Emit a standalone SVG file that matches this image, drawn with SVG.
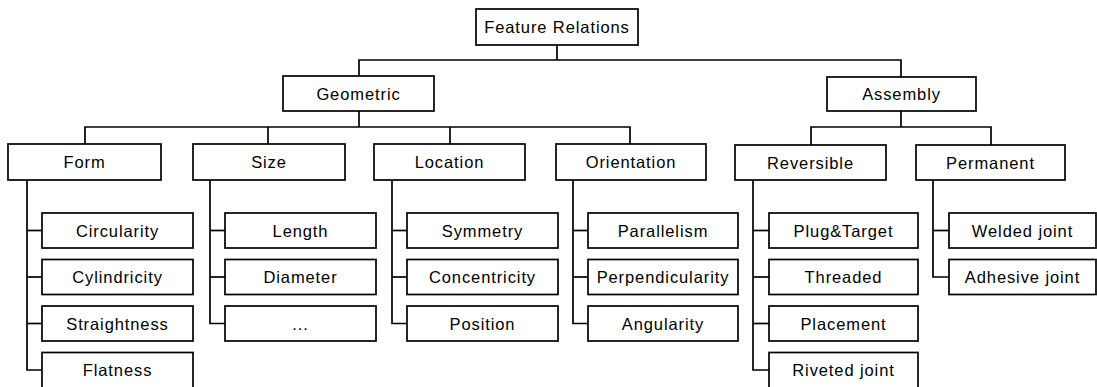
<svg xmlns="http://www.w3.org/2000/svg" width="1097" height="387" viewBox="0 0 1097 387">
  <style>
    .box { fill: #ffffff; stroke: #000000; stroke-width: 1.7; }
    .wire { fill: none; stroke: #000000; stroke-width: 1.7; }
    .lbl { font-family: "Liberation Sans", Arial, sans-serif; font-size: 16.5px; letter-spacing: 0.9px; fill: #000000; text-anchor: middle; }
  </style>
  <rect width="1097" height="387" fill="#ffffff"/>

  <!-- connectors -->
  <g id="connectors" class="wire">
    <!-- root to first level -->
    <polyline points="557,45 557,60"/>
    <polyline points="359,76 359,60 901,60 901,77"/>
    <!-- Geometric to its categories -->
    <polyline points="359,111 359,127"/>
    <polyline points="85,144 85,127 630,127 630,144"/>
    <polyline points="268,127 268,144"/>
    <polyline points="450,127 450,144"/>
    <!-- Assembly to its categories -->
    <polyline points="901,111 901,127"/>
    <polyline points="811,145 811,127 991,127 991,145"/>
    <!-- Form leaves -->
    <polyline points="27,180 27,370 42,370"/>
    <line x1="27" y1="230.5" x2="42" y2="230.5"/>
    <line x1="27" y1="277" x2="42" y2="277"/>
    <line x1="27" y1="323.5" x2="42" y2="323.5"/>
    <!-- Size leaves -->
    <polyline points="210,180 210,323.5 225,323.5"/>
    <line x1="210" y1="230.5" x2="225" y2="230.5"/>
    <line x1="210" y1="277" x2="225" y2="277"/>
    <!-- Location leaves -->
    <polyline points="392,180 392,323.5 407,323.5"/>
    <line x1="392" y1="230.5" x2="407" y2="230.5"/>
    <line x1="392" y1="277" x2="407" y2="277"/>
    <!-- Orientation leaves -->
    <polyline points="573,180 573,323.5 588,323.5"/>
    <line x1="573" y1="230.5" x2="588" y2="230.5"/>
    <line x1="573" y1="277" x2="588" y2="277"/>
    <!-- Reversible leaves -->
    <polyline points="753,180 753,370 769,370"/>
    <line x1="753" y1="230.5" x2="769" y2="230.5"/>
    <line x1="753" y1="277" x2="769" y2="277"/>
    <line x1="753" y1="323.5" x2="769" y2="323.5"/>
    <!-- Permanent leaves -->
    <polyline points="933,180 933,277 949,277"/>
    <line x1="933" y1="230.5" x2="949" y2="230.5"/>
  </g>

  <!-- root -->
  <g id="feature-relations">
    <rect class="box" x="476" y="9" width="162" height="36"/>
    <text class="lbl" x="557" y="33">Feature Relations</text>
  </g>

  <!-- first level -->
  <g id="geometric">
    <rect class="box" x="283" y="76" width="151" height="35"/>
    <text class="lbl" x="358.5" y="99.5">Geometric</text>
  </g>
  <g id="assembly">
    <rect class="box" x="827" y="77" width="149" height="34"/>
    <text class="lbl" x="901.5" y="100">Assembly</text>
  </g>

  <!-- second level -->
  <g id="form">
    <rect class="box" x="8" y="144" width="153" height="36"/>
    <text class="lbl" x="84.5" y="168">Form</text>
  </g>
  <g id="size">
    <rect class="box" x="193" y="144" width="152" height="36"/>
    <text class="lbl" x="269" y="168">Size</text>
  </g>
  <g id="location">
    <rect class="box" x="374" y="144" width="151" height="36"/>
    <text class="lbl" x="449.5" y="168">Location</text>
  </g>
  <g id="orientation">
    <rect class="box" x="556" y="144" width="150" height="36"/>
    <text class="lbl" x="631" y="168">Orientation</text>
  </g>
  <g id="reversible">
    <rect class="box" x="735" y="145" width="151" height="35"/>
    <text class="lbl" x="810.5" y="168.5">Reversible</text>
  </g>
  <g id="permanent">
    <rect class="box" x="916" y="145" width="149" height="35"/>
    <text class="lbl" x="990.5" y="168.5">Permanent</text>
  </g>

  <!-- Form leaves -->
  <g id="circularity">
    <rect class="box" x="42" y="213" width="151" height="35"/>
    <text class="lbl" x="117.5" y="236.5">Circularity</text>
  </g>
  <g id="cylindricity">
    <rect class="box" x="42" y="259.5" width="151" height="35"/>
    <text class="lbl" x="117.5" y="283">Cylindricity</text>
  </g>
  <g id="straightness">
    <rect class="box" x="42" y="306" width="151" height="35"/>
    <text class="lbl" x="117.5" y="329.5">Straightness</text>
  </g>
  <g id="flatness">
    <rect class="box" x="42" y="352.5" width="151" height="36"/>
    <text class="lbl" x="117.5" y="376">Flatness</text>
  </g>

  <!-- Size leaves -->
  <g id="length">
    <rect class="box" x="225" y="213" width="151" height="35"/>
    <text class="lbl" x="300.5" y="236.5">Length</text>
  </g>
  <g id="diameter">
    <rect class="box" x="225" y="259.5" width="151" height="35"/>
    <text class="lbl" x="300.5" y="283">Diameter</text>
  </g>
  <g id="size-more">
    <rect class="box" x="225" y="306" width="151" height="35"/>
    <text class="lbl" x="300.5" y="329.5">...</text>
  </g>

  <!-- Location leaves -->
  <g id="symmetry">
    <rect class="box" x="407" y="213" width="151" height="35"/>
    <text class="lbl" x="482.5" y="236.5">Symmetry</text>
  </g>
  <g id="concentricity">
    <rect class="box" x="407" y="259.5" width="151" height="35"/>
    <text class="lbl" x="482.5" y="283">Concentricity</text>
  </g>
  <g id="position">
    <rect class="box" x="407" y="306" width="151" height="35"/>
    <text class="lbl" x="482.5" y="329.5">Position</text>
  </g>

  <!-- Orientation leaves -->
  <g id="parallelism">
    <rect class="box" x="588" y="213" width="150" height="35"/>
    <text class="lbl" x="663" y="236.5">Parallelism</text>
  </g>
  <g id="perpendicularity">
    <rect class="box" x="588" y="259.5" width="150" height="35"/>
    <text class="lbl" x="663" y="283">Perpendicularity</text>
  </g>
  <g id="angularity">
    <rect class="box" x="588" y="306" width="150" height="35"/>
    <text class="lbl" x="663" y="329.5">Angularity</text>
  </g>

  <!-- Reversible leaves -->
  <g id="plug-target">
    <rect class="box" x="769" y="213" width="149" height="35"/>
    <text class="lbl" x="843.5" y="236.5">Plug&amp;Target</text>
  </g>
  <g id="threaded">
    <rect class="box" x="769" y="259.5" width="149" height="35"/>
    <text class="lbl" x="843.5" y="283">Threaded</text>
  </g>
  <g id="placement">
    <rect class="box" x="769" y="306" width="149" height="35"/>
    <text class="lbl" x="843.5" y="329.5">Placement</text>
  </g>
  <g id="riveted-joint">
    <rect class="box" x="769" y="352.5" width="149" height="36"/>
    <text class="lbl" x="843.5" y="376">Riveted joint</text>
  </g>

  <!-- Permanent leaves -->
  <g id="welded-joint">
    <rect class="box" x="949" y="213" width="147" height="35"/>
    <text class="lbl" x="1022.5" y="236.5">Welded joint</text>
  </g>
  <g id="adhesive-joint">
    <rect class="box" x="949" y="259.5" width="147" height="35"/>
    <text class="lbl" x="1022.5" y="283">Adhesive joint</text>
  </g>
</svg>
